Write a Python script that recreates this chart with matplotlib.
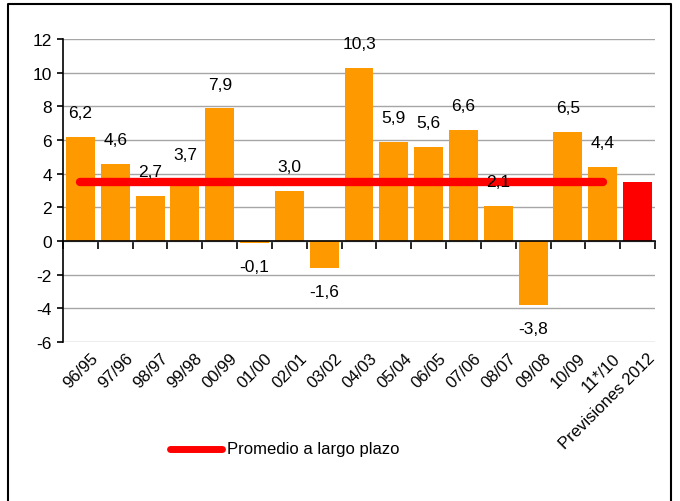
import matplotlib
matplotlib.use("Agg")
import matplotlib.pyplot as plt
from matplotlib.lines import Line2D

categories = ["96/95", "97/96", "98/97", "99/98", "00/99", "01/00", "02/01", "03/02",
              "04/03", "05/04", "06/05", "07/06", "08/07", "09/08", "10/09", "11*/10",
              "Previsiones 2012"]
values = [6.2, 4.6, 2.7, 3.7, 7.9, -0.1, 3.0, -1.6, 10.3, 5.9, 5.6, 6.6, 2.1, -3.8, 6.5, 4.4, 3.5]
labels = ["6,2", "4,6", "2,7", "3,7", "7,9", "-0,1", "3,0", "-1,6", "10,3", "5,9", "5,6",
          "6,6", "2,1", "-3,8", "6,5", "4,4", ""]
average = 3.5
avg_label = "Promedio a largo plazo"
yticks = [-6, -4, -2, 0, 2, 4, 6, 8, 10, 12]

FONT = ["Liberation Sans Narrow", "Liberation Sans", "DejaVu Sans"]
plt.rcParams["font.family"] = FONT

fig = plt.figure(figsize=(6.8, 5.02), dpi=100)
ax = fig.add_axes([63/680, 1-343/502, (655-63)/680, (343-40)/502])

n = len(categories)
x = list(range(n))
colors = ["#FF9900"] * (n - 1) + ["#FF0000"]
ax.bar(x, values, width=0.83, color=colors, zorder=2)

# average line from first to second-to-last category
ax.plot([0, n - 2], [average, average], color="#FF0000", lw=6,
        solid_capstyle="round", zorder=3)

# value labels
for i, (v, lab) in enumerate(zip(values, labels)):
    if not lab:
        continue
    off = 24 if v >= 0 else -24
    ax.annotate(lab, xy=(i, v), xytext=(0, off), textcoords="offset pixels",
                ha="center", va="center", fontsize=12.5, color="#000000", zorder=4)

ax.set_xlim(-0.5, n - 0.5)
ax.set_ylim(-6, 12)
ax.set_yticks(yticks)
ax.set_yticklabels([str(t) for t in yticks], fontsize=12.5)
ax.grid(axis="y", color="#A6A6A6", lw=1, zorder=0)
ax.set_axisbelow(True)

for s in ["top", "right"]:
    ax.spines[s].set_visible(False)
ax.spines["left"].set_color("black")
ax.spines["left"].set_linewidth(1.2)
ax.spines["bottom"].set_position(("data", 0))
ax.spines["bottom"].set_color("black")
ax.spines["bottom"].set_linewidth(1.2)
ax.tick_params(axis="y", direction="out", length=4, width=1.2, pad=4)

# category axis ticks at boundaries on the zero line
ax.set_xticks([i - 0.5 for i in range(n + 1)])
ax.set_xticklabels([])
ax.tick_params(axis="x", direction="out", length=6, width=1.2)

# category labels at bottom
for i, c in enumerate(categories):
    ax.annotate(c, xy=(i, 0), xycoords=("data", "axes fraction"),
                xytext=(10, -8), textcoords="offset pixels",
                rotation=45, ha="right", va="top", rotation_mode="anchor",
                fontsize=12)

# legend
fig.add_artist(Line2D([170/680, 222/680], [1-450/502, 1-450/502], color="#FF0000",
                      lw=5, solid_capstyle="round", transform=fig.transFigure))
fig.text(227/680, 1-450/502, avg_label, ha="left", va="center", fontsize=12)

# outer frame
fig.add_artist(Line2D([8/680, 8/680, 671/680, 671/680],
                      [0, 1-5/502, 1-5/502, 0], color="black", lw=1.5,
                      transform=fig.transFigure))

fig.savefig("out.png", dpi=100)
